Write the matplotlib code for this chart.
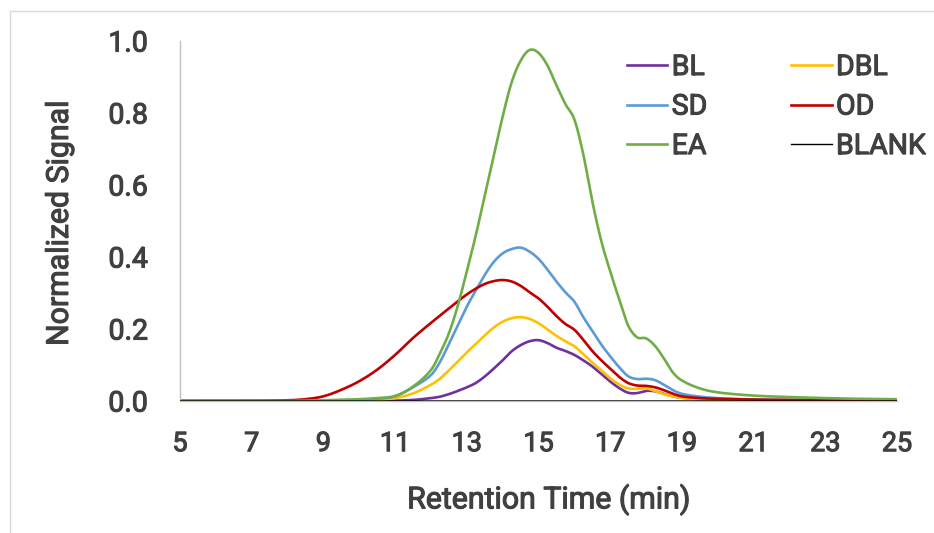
import numpy as np
import matplotlib
matplotlib.use("Agg")
import matplotlib.pyplot as plt
import matplotlib.patheffects as pe
from matplotlib.lines import Line2D

# ---------------- data ----------------
retention_time = [5, 6, 7, 8, 8.5, 9, 9.5, 10, 10.5, 11, 11.5,
                  12, 12.25, 12.5, 12.75, 13, 13.25, 13.5, 13.75, 14, 14.25, 14.5, 14.75,
                  15, 15.25, 15.5, 15.75, 16, 16.25, 16.5, 16.75, 17, 17.25, 17.5, 17.75,
                  18, 18.25, 18.5, 18.75, 19, 19.5, 20, 21, 22, 23, 24, 25]

bl = [0, 0, 0, 0, 0, 0, 0, 0, 0.001, 0.001, 0.003,
      0.008, 0.012, 0.019, 0.028, 0.038, 0.050, 0.068, 0.090, 0.113, 0.138, 0.155, 0.166,
      0.169, 0.161, 0.148, 0.139, 0.128, 0.113, 0.096, 0.075, 0.054, 0.036, 0.023, 0.022,
      0.028, 0.027, 0.020, 0.013, 0.009, 0.005, 0.003, 0.002, 0.001, 0.001, 0.001, 0.001]

dbl = [0, 0, 0, 0, 0, 0, 0, 0.001, 0.003, 0.008, 0.021,
       0.045, 0.062, 0.085, 0.110, 0.135, 0.158, 0.182, 0.204, 0.220, 0.230, 0.233, 0.228,
       0.216, 0.199, 0.181, 0.166, 0.152, 0.130, 0.107, 0.085, 0.063, 0.046, 0.035, 0.034,
       0.035, 0.028, 0.019, 0.013, 0.009, 0.005, 0.003, 0.002, 0.001, 0.001, 0.001, 0.001]

sd = [0, 0, 0, 0, 0, 0.001, 0.002, 0.003, 0.006, 0.013, 0.038,
      0.072, 0.108, 0.158, 0.210, 0.262, 0.307, 0.350, 0.386, 0.410, 0.422, 0.426, 0.415,
      0.395, 0.365, 0.332, 0.302, 0.276, 0.233, 0.195, 0.157, 0.124, 0.094, 0.069, 0.061,
      0.062, 0.058, 0.045, 0.030, 0.020, 0.012, 0.008, 0.004, 0.003, 0.002, 0.002, 0.002]

od = [0, 0, 0, 0.002, 0.005, 0.013, 0.031, 0.055, 0.087, 0.128, 0.175,
      0.217, 0.237, 0.257, 0.277, 0.296, 0.312, 0.325, 0.333, 0.336, 0.332, 0.320, 0.302,
      0.285, 0.262, 0.236, 0.214, 0.198, 0.170, 0.139, 0.113, 0.090, 0.067, 0.050, 0.043,
      0.042, 0.038, 0.030, 0.020, 0.013, 0.008, 0.006, 0.004, 0.003, 0.003, 0.003, 0.003]

ea = [0, 0, 0, 0, 0.001, 0.002, 0.003, 0.005, 0.008, 0.014, 0.040,
      0.086, 0.132, 0.188, 0.265, 0.360, 0.460, 0.570, 0.680, 0.790, 0.885, 0.945, 0.975,
      0.967, 0.932, 0.877, 0.825, 0.782, 0.685, 0.555, 0.445, 0.360, 0.283, 0.210, 0.177,
      0.174, 0.153, 0.118, 0.079, 0.057, 0.035, 0.024, 0.015, 0.011, 0.008, 0.006, 0.005]

blank = [0] * len(retention_time)

series_names = ["BL", "DBL", "SD", "OD", "EA", "BLANK"]
series_colors = ["#7030A0", "#FFC000", "#5B9BD5", "#C00000", "#70AD47", "#000000"]

x_ticks = [5, 7, 9, 11, 13, 15, 17, 19, 21, 23, 25]
y_ticks = [0.0, 0.2, 0.4, 0.6, 0.8, 1.0]
x_label = "Retention Time (min)"
y_label = "Normalized Signal"


# ------------- smoothed line drawing (cardinal cubic through the points) -------------
def smooth(x, y, xn):
    x = np.asarray(x, float)
    y = np.asarray(y, float)
    h = np.diff(x)
    m = np.zeros_like(y)
    m[0] = (y[1] - y[0]) / h[0]
    m[-1] = (y[-1] - y[-2]) / h[-1]
    m[1:-1] = (y[2:] - y[:-2]) / (x[2:] - x[:-2])
    idx = np.clip(np.searchsorted(x, xn) - 1, 0, len(x) - 2)
    t = (xn - x[idx]) / h[idx]
    h00 = 2 * t**3 - 3 * t**2 + 1
    h10 = t**3 - 2 * t**2 + t
    h01 = -2 * t**3 + 3 * t**2
    h11 = t**3 - t**2
    out = h00 * y[idx] + h10 * h[idx] * m[idx] + h01 * y[idx + 1] + h11 * h[idx] * m[idx + 1]
    return np.clip(out, 0, None)


plt.rcParams['font.family'] = ['Roboto', 'DejaVu Sans']
text_color = "#404040"
# medium-weight look: regular glyphs with a thin outline of the same colour
medium = [pe.withStroke(linewidth=0.8, foreground=text_color)]

fig = plt.figure(figsize=(9.34, 5.33), dpi=100)
ax = fig.add_axes([180 / 934, 1 - 401 / 533, (897 - 180) / 934, (401 - 41) / 533])

xs = np.linspace(retention_time[0], retention_time[-1], 3000)
all_series = [bl, dbl, sd, od, ea, blank]
handles = {}
for name, col, vals in zip(series_names, series_colors, all_series):
    lw = 1.0 if name == "BLANK" else 1.9
    z = 3 if name == "BLANK" else 2
    ys = smooth(retention_time, vals, xs)
    ax.plot(xs, ys, color=col, lw=lw, zorder=z, solid_capstyle='butt')
    handles[name] = Line2D([], [], color=col, lw=lw)

ax.set_xlim(5, 25)
ax.set_ylim(0, 1.0)
ax.set_xticks(x_ticks)
ax.set_yticks(y_ticks)
ax.set_xticklabels([str(v) for v in x_ticks])
ax.set_yticklabels([f"{v:.1f}" for v in y_ticks])
ax.tick_params(axis='x', length=0, labelsize=19.5, colors=text_color, pad=21)
ax.tick_params(axis='y', length=0, labelsize=20.5, colors=text_color, pad=23)
for lab in ax.get_xticklabels() + ax.get_yticklabels():
    lab.set_path_effects(medium)

for s in ["top", "right"]:
    ax.spines[s].set_visible(False)
ax.spines["left"].set_color("#BFBFBF")
ax.spines["left"].set_linewidth(1.0)
ax.spines["bottom"].set_color("#BFBFBF")
ax.spines["bottom"].set_linewidth(1.0)

xl = ax.set_xlabel(x_label, fontsize=21.8, color=text_color)
yl = ax.set_ylabel(y_label, fontsize=21.8, color=text_color)
xl.set_path_effects(medium)
yl.set_path_effects(medium)
ax.xaxis.set_label_coords(0.514, -0.232)
ax.yaxis.set_label_coords(-0.148, 0.493)

order = ["BL", "SD", "EA", "DBL", "OD", "BLANK"]
leg = fig.legend([handles[n] for n in order], order, ncol=2,
                 loc='upper left', bbox_to_anchor=(627 / 934, 1 - 54 / 533),
                 frameon=False, fontsize=20.5, handlelength=1.42, handletextpad=0.15,
                 columnspacing=2.95, labelspacing=0.44, borderpad=0, borderaxespad=0)
for t in leg.get_texts():
    t.set_color(text_color)
    t.set_path_effects(medium)

# light outer frame of the chart area
fig.add_artist(Line2D([10 / 934, 1.01], [1 - 11 / 533, 1 - 11 / 533],
                      transform=fig.transFigure, color="#D9D9D9", lw=1.0))
fig.add_artist(Line2D([10 / 934, 10 / 934], [-0.01, 1 - 11 / 533],
                      transform=fig.transFigure, color="#D9D9D9", lw=1.0))

fig.savefig("out.png", dpi=100, facecolor="white")
